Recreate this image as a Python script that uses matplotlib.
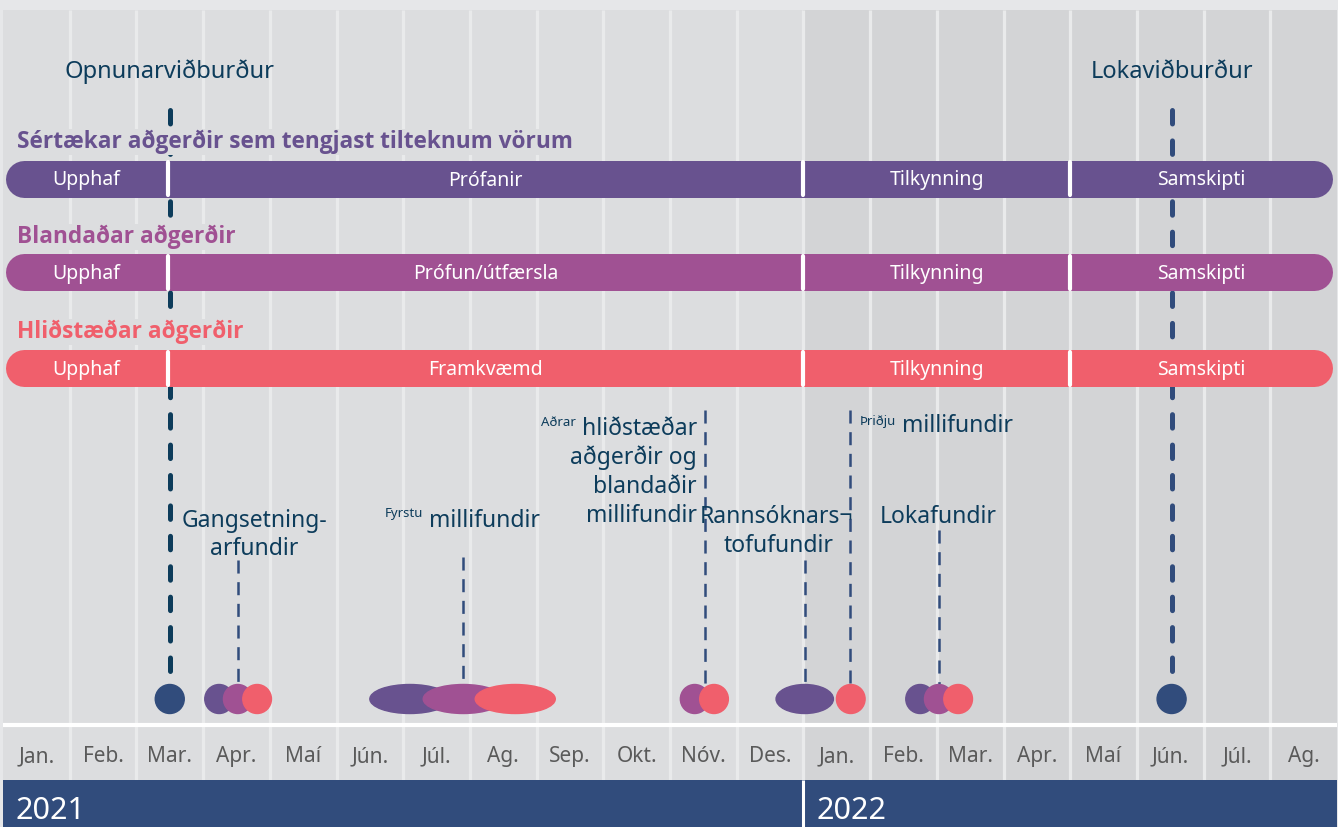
import matplotlib
matplotlib.use("Agg")
import matplotlib.pyplot as plt
from matplotlib.patches import Ellipse

plt.rcParams["font.family"] = ["Noto Sans", "DejaVu Sans"]
plt.rcParams["lines.scale_dashes"] = False

# ── data ────────────────────────────────────────────────────────────────────
months = ["Jan.", "Feb.", "Mar.", "Apr.", "Maí", "Jún.", "Júl.", "Ag.", "Sep.",
          "Okt.", "Nóv.", "Des.", "Jan.", "Feb.", "Mar.", "Apr.", "Maí", "Jún.",
          "Júl.", "Ag."]
years = ["2021", "2022"]
year_start = [0, 12]
year_len = [12, 8]

tracks = ["Sértækar aðgerðir sem tengjast tilteknum vörum",
          "Blandaðar aðgerðir",
          "Hliðstæðar aðgerðir"]
phase_edges = [0.03, 2.47, 12.0, 16.0, 19.93]
phase_names = [
    ["Upphaf", "Prófanir", "Tilkynning", "Samskipti"],
    ["Upphaf", "Prófun/útfærsla", "Tilkynning", "Samskipti"],
    ["Upphaf", "Framkvæmd", "Tilkynning", "Samskipti"],
]

events = ["Opnunarviðburður", "Lokaviðburður"]
event_month = [2.5, 17.52]

# meeting markers: position (months from Jan 2021), width (months), track
mark_x = [3.24, 3.52, 3.81, 6.10, 6.90, 7.68, 10.37, 10.66, 12.02, 12.71,
          13.75, 14.03, 14.32]
mark_w = [0.43, 0.43, 0.43, 1.20, 1.20, 1.20, 0.43, 0.43, 0.86, 0.43,
          0.43, 0.43, 0.43]
mark_track = [0, 1, 2, 0, 1, 2, 1, 2, 0, 2, 0, 1, 2]

meeting_line_x = [3.52, 6.90, 10.52, 12.02, 12.70, 14.03]
other_lines = ["hliðstæðar", "aðgerðir og", "blandaðir", "millifundir"]

# ── style ───────────────────────────────────────────────────────────────────
PX = 66.7                      # pixels per month column
X0 = 3.0                       # left edge of first column in pixels
FRAME = "#e6e7e9"
COL_2021 = "#dcdddf"
COL_2022 = "#d3d4d6"
SEP = "#e9eaeb"
NAVY = "#314c7c"
DARK = "#0d3c5b"
track_colors = ["#68528f", "#a05193", "#f05f6c"]
track_y = [178.5, 272, 368]
title_y = [148, 243, 338]
MARK_Y = 699


def m(px):
    return (px - X0) / PX


fig = plt.figure(figsize=(13.38, 8.27), dpi=100, facecolor=FRAME)
ax = fig.add_axes([0, 0, 1, 1])
ax.set_facecolor(FRAME)
ax.set_xlim(m(0), m(1338))
ax.set_ylim(827, 0)
ax.axis("off")

# month columns
n = len(months)
col_colors = [COL_2021 if i < 12 else COL_2022 for i in range(n)]
ax.bar(range(n), 770, bottom=10, width=1, align="edge", color=col_colors, zorder=0)
ax.vlines(range(1, n), 10, 780, color=SEP, lw=2.3, zorder=1)
ax.hlines(725, 0, n, color="white", lw=3, zorder=2)

for i, lab in enumerate(months):
    ax.text(i + 0.5, 762, lab, ha="center", va="baseline", fontsize=15,
            color="#5a5a5a", zorder=3)

# year band
ax.bar(year_start, 47, bottom=780, width=year_len, align="edge", color=NAVY, zorder=2)
ax.vlines(12, 780, 827, color="white", lw=2.2, zorder=3)
for s, lab in zip(year_start, years):
    ax.text(s + 0.19, 819, lab, ha="left", va="baseline", fontsize=22,
            color="white", zorder=4)

# event lines (behind bars)
ax.plot([event_month[0]] * 2, [110, 683], color=DARK, lw=3.6,
        ls=(0, (9.7, 12.2)), dash_capstyle="round", zorder=3)
ax.plot([event_month[1]] * 2, [110, 688], color=NAVY, lw=3.6,
        ls=(0, (9.7, 12.2)), dash_capstyle="round", zorder=3)
for xm, lab in zip(event_month, events):
    ax.text(xm, 78, lab, ha="center", va="baseline", fontsize=17, color=DARK, zorder=4)
    ax.add_patch(Ellipse((xm, MARK_Y), 29 / PX, 29, color=NAVY, zorder=4))

# track bars
bar_lw = 37 * 72 / 100
cap = 18.5 / PX
for t, (name, col, y, ty) in enumerate(zip(tracks, track_colors, track_y, title_y)):
    ax.text(m(17), ty, name, ha="left", va="baseline", fontsize=16.3,
            fontweight="bold", family=["Open Sans", "DejaVu Sans"], color=col,
            zorder=5, bbox=dict(boxstyle="square,pad=0.05", fc=COL_2021, ec="none"))
    ax.plot([phase_edges[0] + cap, phase_edges[-1] - cap], [y, y], color=col,
            lw=bar_lw, solid_capstyle="round", zorder=6)
    for e in phase_edges[1:-1]:
        ax.plot([e, e], [y - 16.5, y + 16.5], color="white", lw=3,
                solid_capstyle="round", zorder=7)
    for a, b, lab in zip(phase_edges[:-1], phase_edges[1:], phase_names[t]):
        ax.text((a + b) / 2, y + 7, lab, ha="center", va="baseline",
                fontsize=14, color="white", zorder=8)

# meeting dashed lines
line_top = [560, 557, 410, 560, 410, 530]
for xm, top in zip(meeting_line_x, line_top):
    ax.plot([xm, xm], [top, 685], color=NAVY, lw=1.8, ls=(0, (9.4, 6.2)), zorder=3)

# meeting markers (purple below magenta below coral)
for xm, w, t in zip(mark_x, mark_w, mark_track):
    ax.add_patch(Ellipse((xm, MARK_Y), w, 29, color=track_colors[t], zorder=4 + t * 0.1))

# meeting labels
big = dict(fontsize=16.5, color=DARK, va="baseline", zorder=5)
small = dict(fontsize=9.5, color=DARK, va="baseline", zorder=5)
ax.text(m(254), 527, "Gangsetning-", ha="center", **big)
ax.text(m(254), 555, "arfundir", ha="center", **big)
ax.text(m(423), 517, "Fyrstu", ha="right", **small)
ax.text(m(429), 527, "millifundir", ha="left", **big)
ax.text(m(576), 426, "Aðrar", ha="right", **small)
for k, line in enumerate(other_lines):
    ax.text(m(697), 435 + 29 * k, line, ha="right", **big)
ax.text(m(777), 523, "Rannsóknars¬", ha="center", **big)
ax.text(m(779), 552, "tofufundir", ha="center", **big)
ax.text(m(896), 425, "Þriðju", ha="right", **small)
ax.text(m(902), 432, "millifundir", ha="left", **big)
ax.text(m(938), 523, "Lokafundir", ha="center", **big)

fig.savefig("out.png", dpi=100, facecolor=FRAME)
